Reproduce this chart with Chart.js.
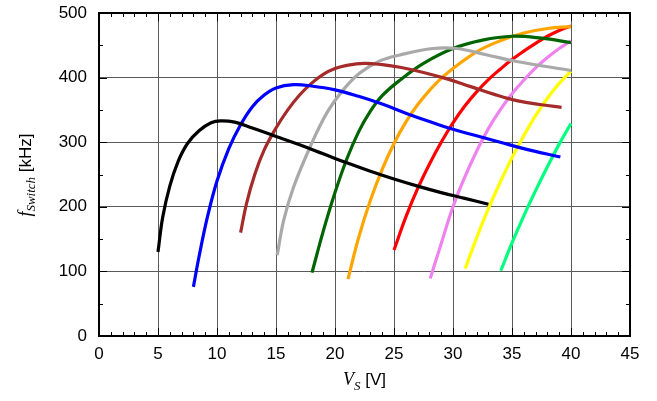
<!DOCTYPE html>
<html>
<head>
<meta charset="utf-8">
<script src="https://cdn.jsdelivr.net/npm/chart.js@4"></script>
<style>
  html, body { margin: 0; padding: 0; background: #fff; }
  #wrap { width: 657px; height: 401px; }
</style>
</head>
<body>
<div id="wrap"><canvas id="chart" width="657" height="401"></canvas></div>
<script>
// curves: supply voltage [V] vs switching frequency [kHz]
var blackX  = [5.0, 5.4, 6.0, 6.7, 7.5, 8.5, 9.5, 10.3, 11.5, 13, 15, 17, 19, 21, 23, 25, 27, 29, 31, 33];
var blackY  = [130, 184, 232, 270, 298, 318, 330, 333, 331, 322, 309, 296, 282, 268, 255, 243, 232, 222, 213, 204];
var blueX   = [8.0, 8.5, 9.2, 10, 11, 12, 13, 14, 15, 16.5, 18, 20, 22, 24, 26, 28, 30, 32, 34, 36, 39.1];
var blueY   = [76, 125, 185, 240, 290, 327, 355, 373, 384, 389, 387, 381, 371, 359, 345, 332, 320, 310, 300, 290, 277];
var brownX  = [12.0, 12.5, 13.2, 14, 15, 16, 17, 18, 19, 20, 21, 22.5, 24, 25.5, 27.5, 29.5, 31.5, 33.5, 35.5, 37.5, 39.2];
var brownY  = [160, 205, 250, 288, 322, 350, 373, 391, 405, 414, 419, 422, 420, 416, 408, 398, 386, 374, 364, 358, 354];
var grayX   = [15.1, 15.65, 16.5, 17.9, 19.3, 20.7, 22.1, 23.7, 25.5, 28.3, 30.3, 32.9, 35.4, 40.0];
var grayY   = [125, 179, 231, 293, 345, 381, 407, 425, 435, 445, 445, 435, 425, 411];
var greenX  = [18.05, 19, 20, 21, 22, 23, 24, 25.5, 27.5, 30, 32.5, 35, 37.5, 40];
var greenY  = [98, 162, 222, 274, 316, 348, 372, 396, 422, 445, 458, 464, 461, 454];
var orangeX = [21.1, 22, 23, 24, 25, 26, 27, 28.5, 30, 32, 34, 36, 38, 40];
var orangeY = [88, 152, 210, 258, 298, 331, 358, 390, 414, 440, 457, 469, 476, 479];
var redX    = [25, 26, 27, 28, 29, 30, 31, 32, 33, 34, 35, 36, 37, 38, 39, 40];
var redY    = [133, 184, 228, 266, 300, 330, 356, 378, 397, 413, 428, 441, 453, 464, 473, 480];
var violetX = [28.07, 29, 30, 31, 32, 33, 34, 35, 36, 37, 38, 39, 40];
var violetY = [89, 143, 200, 246, 286, 321, 350, 375, 396, 415, 431, 445, 457];
var yellowX = [31.03, 32, 33, 34, 35, 36, 37, 38, 39, 40];
var yellowY = [104, 152, 197, 238, 276, 310, 341, 368, 391, 410];
var springX = [34.05, 35, 36, 37, 38, 39, 40];
var springY = [101, 144, 186, 225, 262, 297, 329];

var xTicks = [0, 5, 10, 15, 20, 25, 30, 35, 40, 45];
var yTicks = [0, 100, 200, 300, 400, 500];

var series = [
  [blackX, blackY, '#000000'],
  [blueX, blueY, '#0000ff'],
  [brownX, brownY, '#a52a2a'],
  [grayX, grayY, '#a9a9a9'],
  [greenX, greenY, '#006400'],
  [orangeX, orangeY, '#ffa500'],
  [redX, redY, '#ff0000'],
  [violetX, violetY, '#ee82ee'],
  [yellowX, yellowY, '#ffff00'],
  [springX, springY, '#00ff7f']
];

var datasets = series.map(function(s){
  return {
    data: s[0].map(function(x, i){ return {x: x, y: s[1][i]}; }),
    borderColor: s[2],
    borderWidth: 3.2,
    pointRadius: 0,
    fill: false,
    tension: 0.4
  };
});

// inward minor/major ticks on all four sides, plus top/right frame
var frame = {
  id: 'frame',
  afterDraw: function(chart){
    var ctx = chart.ctx, a = chart.chartArea;
    var xs = chart.scales.x, ys = chart.scales.y;
    ctx.save();
    ctx.strokeStyle = '#000';
    ctx.lineWidth = 1;
    for (var v = 0; v <= 45; v++){
      var px = Math.round(xs.getPixelForValue(v)) + 0.5;
      var len = v % 5 === 0 ? 8 : 4;
      ctx.beginPath();
      ctx.moveTo(px, a.bottom); ctx.lineTo(px, a.bottom - len);
      ctx.moveTo(px, a.top); ctx.lineTo(px, a.top + len);
      ctx.stroke();
    }
    for (var w = 0; w <= 500; w += 50){
      var py = Math.round(ys.getPixelForValue(w)) + 0.5;
      var l2 = w % 100 === 0 ? 8 : 4;
      ctx.beginPath();
      ctx.moveTo(a.left, py); ctx.lineTo(a.left + l2, py);
      ctx.moveTo(a.right, py); ctx.lineTo(a.right - l2, py);
      ctx.stroke();
    }
    ctx.lineWidth = 2;
    ctx.strokeRect(a.left, a.top, a.right - a.left, a.bottom - a.top);

    // axis titles with subscripts
    ctx.fillStyle = '#000';
    ctx.textBaseline = 'alphabetic';
    var parts = [
      ['italic 18px "Liberation Serif"', 'V', 0],
      ['italic 13px "Liberation Serif"', 'S', 5],
      ['17px "Liberation Sans"', ' [V]', 0]
    ];
    drawParts(ctx, parts, (a.left + a.right) / 2, 385);

    ctx.translate(31, 175);
    ctx.rotate(-Math.PI / 2);
    var yparts = [
      ['italic 18px "Liberation Serif"', 'f', 0],
      ['italic 13px "Liberation Serif"', 'Switch', 4],
      ['17px "Liberation Sans"', ' [kHz]', 0]
    ];
    drawParts(ctx, yparts, 0, 0);
    ctx.restore();
  }
};

function drawParts(ctx, parts, cx, base){
  var total = 0;
  parts.forEach(function(p){ ctx.font = p[0]; total += ctx.measureText(p[1]).width; });
  var x = cx - total / 2;
  parts.forEach(function(p){
    ctx.font = p[0];
    ctx.fillText(p[1], x, base + p[2]);
    x += ctx.measureText(p[1]).width;
  });
}

new Chart(document.getElementById('chart'), {
  type: 'line',
  data: { datasets: datasets },
  plugins: [frame],
  options: {
    responsive: false,
    animation: false,
    layout: { padding: { left: 0, right: 27, top: 13, bottom: 0 } },
    plugins: { legend: { display: false }, tooltip: { enabled: false } },
    scales: {
      x: {
        type: 'linear', min: 0, max: 45,
        afterBuildTicks: function(s){ s.ticks = xTicks.map(function(v){ return {value: v}; }); },
        afterFit: function(s){ s.height = 65; s.paddingLeft = 0; s.paddingRight = 0; },
        ticks: { color: '#000', padding: 8, maxRotation: 0, font: { family: 'Liberation Sans', size: 17 } },
        grid: { color: '#5a5a5a', lineWidth: 1, drawTicks: false },
        border: { display: false }
      },
      y: {
        type: 'linear', min: 0, max: 500,
        afterBuildTicks: function(s){ s.ticks = yTicks.map(function(v){ return {value: v}; }); },
        afterFit: function(s){ s.width = 99; s.paddingTop = 0; s.paddingBottom = 0; },
        ticks: { color: '#000', padding: 12, font: { family: 'Liberation Sans', size: 17 } },
        grid: { color: '#5a5a5a', lineWidth: 1, drawTicks: false },
        border: { display: false }
      }
    }
  }
});
</script>
</body>
</html>
